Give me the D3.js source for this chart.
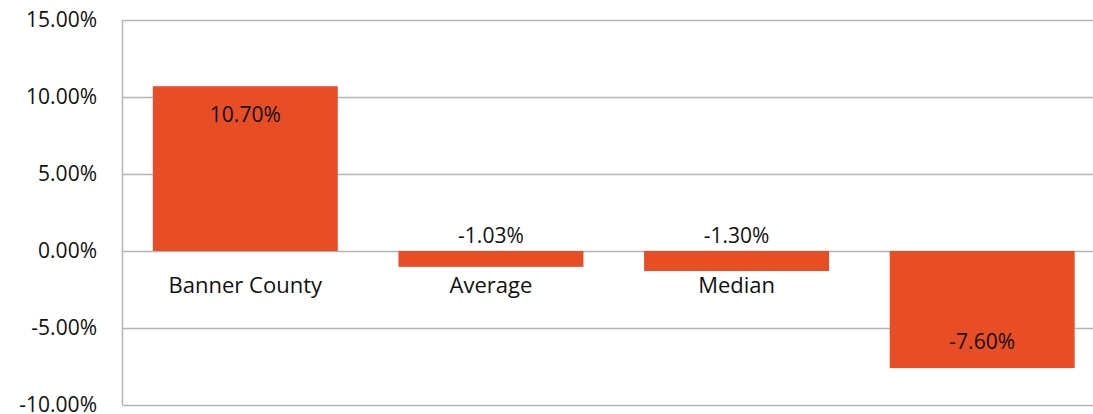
<!DOCTYPE html>
<html>
<head>
<meta charset="utf-8">
<script src="https://cdn.jsdelivr.net/npm/d3@7"></script>
<style>
  body { margin: 0; background: #fff; }
  svg { display: block; font-family: "Open Sans", "Noto Sans", sans-serif; }
</style>
</head>
<body>
<svg width="1093" height="414"></svg>
<script>
// chart data
const categories = ["Banner County", "Average", "Median", ""];
const values = [10.70, -1.03, -1.30, -7.60];
const tickValues = [15, 10, 5, 0, -5, -10];

const svg = d3.select("svg"),
    plotLeft = 122.5, plotTop = 20, plotBottom = 405, plotRight = 1105;

const x = d3.scaleBand()
    .domain(categories.map((c, i) => i))
    .range([plotLeft, plotRight])
    .paddingInner(0.247)
    .paddingOuter(0.1235);

const y = d3.scaleLinear()
    .domain([-10, 15])
    .range([plotBottom, plotTop]);

const fmt = v => v.toFixed(2) + "%";

// gridlines
svg.append("g")
    .selectAll("line")
    .data(tickValues)
    .enter()
    .append("line")
    .attr("x1", plotLeft)
    .attr("x2", plotRight)
    .attr("y1", d => Math.round(y(d)) + 0.5)
    .attr("y2", d => Math.round(y(d)) + 0.5)
    .attr("stroke", "#b3b3b3")
    .attr("stroke-width", 1.5);

// left axis line
svg.append("line")
    .attr("x1", plotLeft).attr("x2", plotLeft)
    .attr("y1", y(15)).attr("y2", y(-10))
    .attr("stroke", "#b3b3b3")
    .attr("stroke-width", 1.5);

// tick labels
svg.append("g")
    .selectAll("text")
    .data(tickValues)
    .enter()
    .append("text")
    .attr("x", 97)
    .attr("y", d => y(d))
    .attr("dy", "0.35em")
    .attr("text-anchor", "end")
    .attr("font-size", 21)
    .attr("fill", "#111")
    .text(fmt);

// category labels (drawn before bars)
svg.append("g")
    .selectAll("text")
    .data(categories)
    .enter()
    .append("text")
    .attr("x", (d, i) => x(i) + x.bandwidth() / 2)
    .attr("y", y(0) + 42)
    .attr("text-anchor", "middle")
    .attr("font-size", 22)
    .attr("fill", "#111")
    .text(d => d);

// bars
const data = values.map((v, i) => ({ i, v }));
svg.append("g")
    .selectAll("rect")
    .data(data)
    .enter()
    .append("rect")
    .attr("x", d => x(d.i))
    .attr("width", x.bandwidth())
    .attr("y", d => y(Math.max(0, d.v)))
    .attr("height", d => Math.abs(y(d.v) - y(0)))
    .attr("fill", "#e84e25");

// data labels
svg.append("g")
    .selectAll("text")
    .data(data)
    .enter()
    .append("text")
    .attr("x", d => x(d.i) + x.bandwidth() / 2)
    .attr("y", d => {
        if (d.v > 0) return y(d.v) + 36;
        if (d.v < -5) return y(d.v) - 19;
        return y(0) - 8;
    })
    .attr("text-anchor", "middle")
    .attr("font-size", 21)
    .attr("fill", "#111")
    .text(d => fmt(d.v));
</script>
</body>
</html>
